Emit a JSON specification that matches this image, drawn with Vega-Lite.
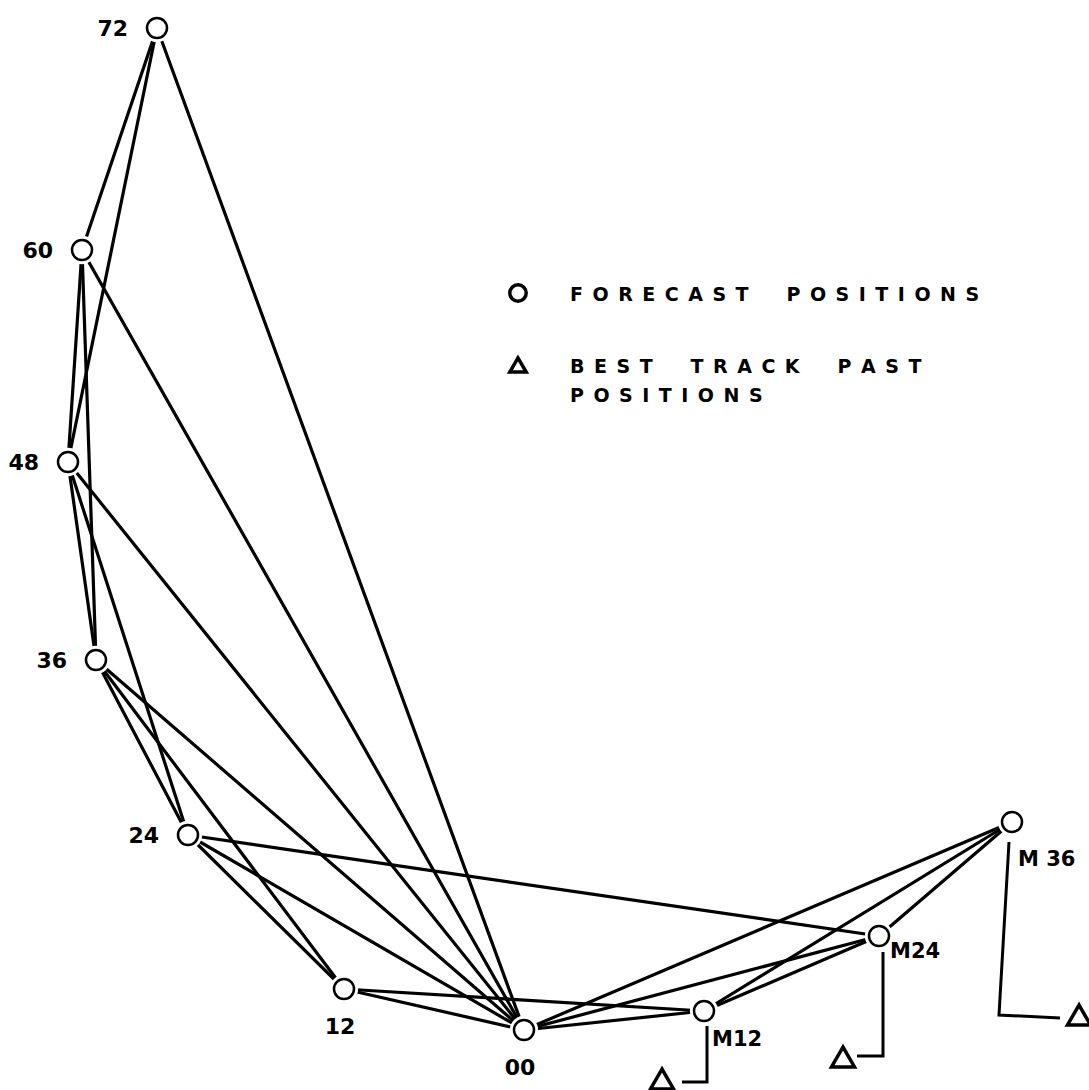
{
  "$schema": "https://vega.github.io/schema/vega-lite/v6.json",
  "width": 1089,
  "height": 1090,
  "autosize": {"type": "none"},
  "padding": 0,
  "background": "white",
  "config": {"view": {"stroke": null}, "style": {"guide-label": {"lineHeight": 29, "dy": -7}}},
  "datasets": {
    "pts": [
      {"id": "72", "label": "72", "x": 157, "y": 28, "kind": "FORECAST POSITIONS", "links": ["72-60", "72-48", "72-00"]},
      {"id": "60", "label": "60", "x": 82, "y": 250, "kind": "FORECAST POSITIONS", "links": ["72-60", "60-48", "60-36", "60-00"]},
      {"id": "48", "label": "48", "x": 68, "y": 462, "kind": "FORECAST POSITIONS", "links": ["72-48", "60-48", "48-36", "48-24", "48-00"]},
      {"id": "36", "label": "36", "x": 96, "y": 660, "kind": "FORECAST POSITIONS", "links": ["60-36", "48-36", "36-24", "36-12", "36-00"]},
      {"id": "24", "label": "24", "x": 188, "y": 835, "kind": "FORECAST POSITIONS", "links": ["48-24", "36-24", "24-12", "24-00", "24-M24"]},
      {"id": "12", "label": "12", "x": 344, "y": 989, "kind": "FORECAST POSITIONS", "links": ["36-12", "24-12", "12-00", "12-M12"]},
      {"id": "00", "label": "00", "x": 524, "y": 1030, "kind": "FORECAST POSITIONS", "links": ["72-00", "60-00", "48-00", "36-00", "24-00", "12-00", "00-M12", "00-M24", "00-M36"]},
      {"id": "M12", "label": "M12", "x": 704, "y": 1011, "kind": "FORECAST POSITIONS", "links": ["12-M12", "00-M12", "M12-M24", "M12-M36"]},
      {"id": "M24", "label": "M24", "x": 879, "y": 936, "kind": "FORECAST POSITIONS", "links": ["24-M24", "00-M24", "M12-M24", "M24-M36"]},
      {"id": "M36", "label": "M 36", "x": 1012, "y": 822, "kind": "FORECAST POSITIONS", "links": ["00-M36", "M12-M36", "M24-M36"]}
    ],
    "best": [
      {"id": "BT-M12", "x": 662, "y": 1079, "kind": "BEST TRACK PAST POSITIONS"},
      {"id": "BT-M24", "x": 843, "y": 1057, "kind": "BEST TRACK PAST POSITIONS"},
      {"id": "BT-M36", "x": 1079, "y": 1015, "kind": "BEST TRACK PAST POSITIONS"}
    ],
    "leaders": [
      {"leader": "M12", "ord": 1, "x": 707, "y": 1026},
      {"leader": "M12", "ord": 2, "x": 707, "y": 1082},
      {"leader": "M12", "ord": 3, "x": 682, "y": 1082},
      {"leader": "M24", "ord": 1, "x": 883, "y": 952},
      {"leader": "M24", "ord": 2, "x": 883, "y": 1056},
      {"leader": "M24", "ord": 3, "x": 857, "y": 1056},
      {"leader": "M36", "ord": 1, "x": 1009, "y": 842},
      {"leader": "M36", "ord": 2, "x": 999, "y": 1015},
      {"leader": "M36", "ord": 3, "x": 1060, "y": 1018}
    ]
  },
  "encoding": {
    "x": {"field": "x", "type": "quantitative", "axis": null,
          "scale": {"domain": [0, 1089], "nice": false, "zero": false}},
    "y": {"field": "y", "type": "quantitative", "axis": null,
          "scale": {"domain": [0, 1090], "nice": false, "zero": false, "reverse": true}}
  },
  "layer": [
    {
      "data": {"name": "pts"},
      "transform": [{"flatten": ["links"], "as": ["seg"]}],
      "mark": {"type": "line", "color": "black", "strokeWidth": 3.2, "strokeCap": "round"},
      "encoding": {"detail": {"field": "seg"}}
    },
    {
      "data": {"name": "pts"},
      "mark": {"type": "point", "shape": "circle", "filled": true, "color": "white", "size": 800, "opacity": 1}
    },
    {
      "data": {"name": "pts"},
      "mark": {"type": "point", "filled": false, "color": "black", "strokeWidth": 2.5, "size": 400, "opacity": 1},
      "encoding": {
        "shape": {
          "field": "kind", "type": "nominal",
          "scale": {"domain": ["FORECAST POSITIONS", "BEST TRACK PAST POSITIONS"], "range": ["circle", "triangle-up"]},
          "legend": {
            "title": null,
            "orient": "none",
            "legendX": 508,
            "legendY": 283,
            "padding": 0,
            "symbolSize": 270,
            "symbolStrokeWidth": 3.5,
            "symbolStrokeColor": "black",
            "labelFont": "DejaVu Sans",
            "labelFontWeight": "bold",
            "labelFontSize": 19,
            "labelColor": "black",
            "labelOffset": 42,
            "labelLimit": 800,
            "labelBaseline": "top",
            "rowPadding": 41,
            "labelExpr": "split(replace(replace(replace(datum.label, /PAST /, 'PAST\\n\u2003\u2002'), /(\\S)(?=\\S)/g, '$1\u2002'), / /g, '\u2003\u2003'), '\\n')"
          }
        }
      }
    },
    {
      "data": {"name": "leaders"},
      "mark": {"type": "line", "color": "black", "strokeWidth": 3},
      "encoding": {"detail": {"field": "leader"}, "order": {"field": "ord"}}
    },
    {
      "data": {"name": "best"},
      "mark": {"type": "point", "filled": false, "color": "black", "strokeWidth": 3.5, "size": 529, "opacity": 1},
      "encoding": {"shape": {"field": "kind", "type": "nominal"}}
    },
    {
      "data": {"name": "pts"},
      "transform": [{"filter": {"field": "id", "oneOf": ["72", "60", "48", "36", "24"]}}],
      "mark": {"type": "text", "align": "right", "baseline": "middle", "dx": -29, "dy": 1, "font": "DejaVu Sans", "fontWeight": "bold", "fontSize": 22, "color": "black"},
      "encoding": {"text": {"field": "label"}}
    },
    {
      "data": {"name": "pts"},
      "transform": [{"filter": {"field": "id", "oneOf": ["12", "00"]}}],
      "mark": {"type": "text", "align": "center", "baseline": "middle", "dx": -4, "dy": 38, "font": "DejaVu Sans", "fontWeight": "bold", "fontSize": 22, "color": "black"},
      "encoding": {"text": {"field": "label"}}
    },
    {
      "data": {"name": "pts"},
      "transform": [{"filter": {"field": "id", "equal": "M12"}}],
      "mark": {"type": "text", "align": "left", "baseline": "middle", "dx": 8, "dy": 29, "font": "DejaVu Sans", "fontWeight": "bold", "fontSize": 21, "color": "black"},
      "encoding": {"text": {"field": "label"}}
    },
    {
      "data": {"name": "pts"},
      "transform": [{"filter": {"field": "id", "equal": "M24"}}],
      "mark": {"type": "text", "align": "left", "baseline": "middle", "dx": 11, "dy": 16, "font": "DejaVu Sans", "fontWeight": "bold", "fontSize": 21, "color": "black"},
      "encoding": {"text": {"field": "label"}}
    },
    {
      "data": {"name": "pts"},
      "transform": [{"filter": {"field": "id", "equal": "M36"}}],
      "mark": {"type": "text", "align": "left", "baseline": "middle", "dx": 6, "dy": 38, "font": "DejaVu Sans", "fontWeight": "bold", "fontSize": 21, "color": "black"},
      "encoding": {"text": {"field": "label"}}
    }
  ]
}
